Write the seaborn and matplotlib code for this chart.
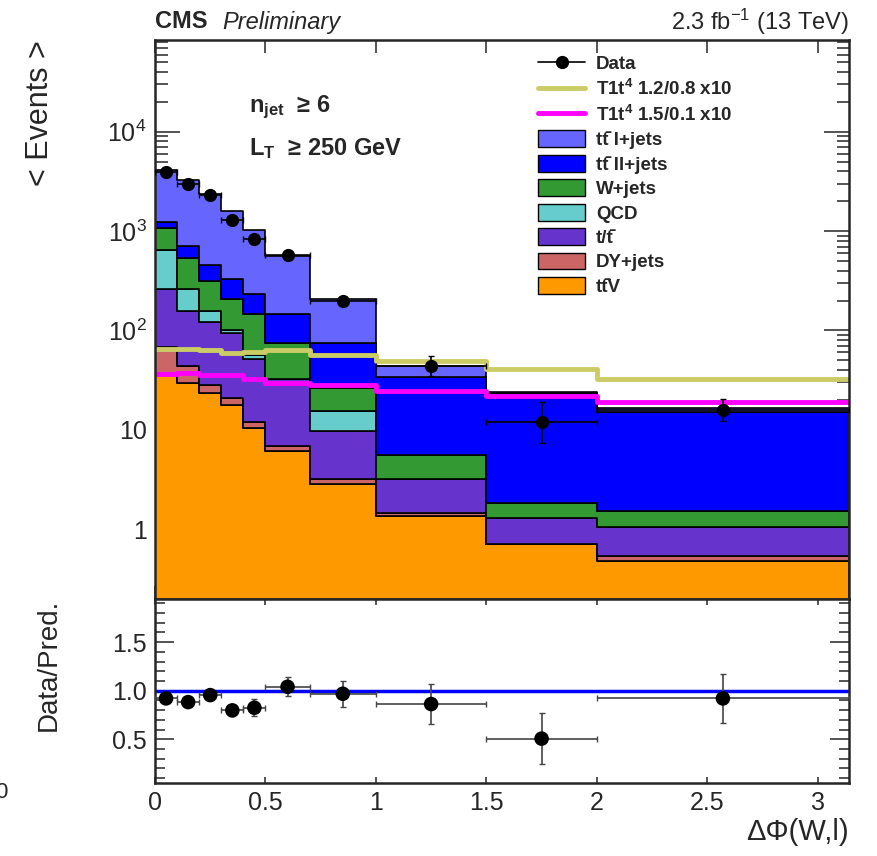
import numpy as np
import pandas as pd
import seaborn as sns
import matplotlib.pyplot as plt
from matplotlib.ticker import FixedLocator, FuncFormatter, LogLocator, MultipleLocator, NullFormatter
from matplotlib.lines import Line2D
from matplotlib.patches import Patch

# ── BINNING ────────────────────────────────────────────
bin_edges = [0.0, 0.1, 0.2, 0.3, 0.4, 0.5, 0.7, 1.0, 1.5, 2.0, 3.1416]

# ── BACKGROUNDS (events per bin) ───
tt_1l = [2925, 2592, 1906, 1281, 783, 413, 131, 9.5, 0.2, 1.3]
tt_2l = [149, 165, 142, 121, 90, 71, 47.4, 28.8, 21.9, 13.6]
wjets = [425, 276, 162, 105, 89, 41.8, 11.2, 2.31, 0.53, 0.49]
qcd = [389, 106, 35, 5.2, 4.0, 0.0, 5.7, 0.0, 0.0, 0.0]
single_t = [194.5, 112.2, 92.8, 74.1, 39.9, 25.3, 6.54, 1.79, 0.58, 0.51]
dyjets = [31.5, 14.5, 4.9, 3.1, 1.7, 0.75, 0.35, 0.10, 0.0, 0.05]
ttv = [36.0, 29.3, 23.3, 17.6, 10.4, 6.12, 2.83, 1.34, 0.71, 0.48]

# ── SIGNALS (x10) ──────────────────────────────────────
sig_12_08 = [65.5, 64.4, 63.6, 59.7, 60.5, 62.9, 56.1, 48.8, 40.8, 32.4]
sig_15_01 = [36.7, 37.2, 35.9, 35.9, 32.7, 29.8, 28.5, 24.4, 21.7, 19.0]

# ── DATA ───────────────────────────────────────────────
data_y = [3900, 2980, 2290, 1285, 841, 577, 197, 43.8, 12.1, 15.7]
data_err_lo = [60, 55, 48, 36, 29, 24, 14, 9.0, 4.8, 3.5]
data_err_hi = [60, 55, 48, 36, 29, 24, 14, 11.4, 7.1, 4.6]

ratio = [0.921, 0.883, 0.955, 0.798, 0.825, 1.041, 0.969, 0.863, 0.507, 0.921]
ratio_err = [0.04, 0.04, 0.05, 0.06, 0.09, 0.10, 0.135, 0.21, 0.26, 0.25]

# legend order = stack order from top to bottom
proc_names = ["tt_1l", "tt_2l", "wjets", "qcd", "single_t", "dyjets", "ttv"]
proc_values = [tt_1l, tt_2l, wjets, qcd, single_t, dyjets, ttv]
proc_labels = ["tt\u0304 l+jets", "tt\u0304 ll+jets", "W+jets", "QCD",
               "t/t\u0304", "DY+jets", "tt\u0304V"]
proc_colors = ["#6666FF", "#0000FF", "#339933", "#66CCCC", "#6633CC", "#CC6666", "#FF9900"]

# ── STYLE ──────────────────────────────────────────────
sns.set_style("ticks")
plt.rcParams["font.family"] = ["Liberation Sans", "DejaVu Sans"]
plt.rcParams["mathtext.fontset"] = "custom"
plt.rcParams["mathtext.rm"] = "Liberation Sans"
plt.rcParams["mathtext.it"] = "Liberation Sans:italic"
plt.rcParams["mathtext.bf"] = "Liberation Sans:bold"

edges = np.array(bin_edges)
centers = 0.5 * (edges[1:] + edges[:-1])
half_w = 0.5 * (edges[1:] - edges[:-1])

stack = pd.DataFrame({
    "x": np.tile(centers, len(proc_names)),
    "w": np.concatenate(proc_values),
    "process": np.repeat(proc_names, len(centers)),
})

W, H = 878, 856
fig = plt.figure(figsize=(W / 100, H / 100), dpi=100)
ax = fig.add_axes([155 / W, 1 - 598.5 / H, 694 / W, 558.5 / H])
ax2 = fig.add_axes([155 / W, 1 - 783 / H, 694 / W, 184.5 / H], sharex=ax)

# ── UPPER PANEL ────────────────────────────────────────
ax.set_yscale("log")
sns.histplot(data=stack, x="x", weights="w", hue="process", hue_order=proc_names,
             palette=dict(zip(proc_names, proc_colors)), bins=bin_edges,
             multiple="stack", element="step", alpha=1, edgecolor="black",
             linewidth=1.2, legend=False, ax=ax)

sns.histplot(x=centers, weights=sig_12_08, bins=bin_edges, element="step", fill=False,
             color="#CCCC66", linewidth=3.5, ax=ax)
sns.histplot(x=centers, weights=sig_15_01, bins=bin_edges, element="step", fill=False,
             color="#FF00FF", linewidth=3.5, ax=ax)

ax.errorbar(centers, data_y, xerr=half_w, yerr=[data_err_lo, data_err_hi], fmt="o",
            color="black", ms=8.5, elinewidth=1.2, capsize=2.5, zorder=10)

ax.set_xlim(0, 3.1416)
ax.set_ylim(0.2, 8.4e4)

def log_fmt(v, pos):
    e = int(round(np.log10(v)))
    if e == 0:
        return "1"
    if e == 1:
        return "10"
    return r"$\mathregular{10^{%d}}$" % e

ax.yaxis.set_major_locator(LogLocator(base=10, numticks=20))
ax.yaxis.set_minor_locator(LogLocator(base=10, subs=np.arange(2, 10), numticks=50))
ax.yaxis.set_major_formatter(FuncFormatter(log_fmt))
ax.yaxis.set_minor_formatter(NullFormatter())
ax.xaxis.set_major_locator(MultipleLocator(0.5))
ax.tick_params(axis="x", which="both", labelbottom=False)
ax.tick_params(axis="both", which="both", direction="in", top=True, right=True, width=1.1)
ax.tick_params(axis="y", which="major", length=18, labelsize=18, pad=6)
ax.tick_params(axis="y", which="minor", length=9)
ax.tick_params(axis="x", which="major", length=9.5)
ax.set_xlabel("")
ax.set_ylabel("< Events >", fontsize=22, loc="top")
ax.yaxis.set_label_coords(-0.144, 1.0)
for s in ax.spines.values():
    s.set_linewidth(1.8)

ax.text(0.135, 0.88, r"$\mathbf{n_{jet}}$  ≥ 6", transform=ax.transAxes,
        fontsize=17, fontweight="bold", va="center")
ax.text(0.135, 0.805, r"$\mathbf{L_T}$  ≥ 250 GeV", transform=ax.transAxes,
        fontsize=17, fontweight="bold", va="center")

handles = [Line2D([], [], color="black", marker="o", ms=8.5, lw=1.2),
           Line2D([], [], color="#CCCC66", lw=3.5),
           Line2D([], [], color="#FF00FF", lw=3.5)]
handles += [Patch(facecolor=c, edgecolor="black", lw=1) for c in proc_colors]
labels = ["Data", r"T1t$^{\mathbf{4}}$ 1.2/0.8 x10", r"T1t$^{\mathbf{4}}$ 1.5/0.1 x10"] + proc_labels
ax.legend(handles, labels, loc="upper left", bbox_to_anchor=(0.552, 0.974), frameon=False,
          borderpad=0, borderaxespad=0, handlelength=2.5, handleheight=1.0,
          handletextpad=0.6, labelspacing=0.3, prop={"weight": "bold", "size": 13.5})

fig.text(155 / W, 1 - 22 / H, "CMS", fontsize=17, fontweight="bold", va="center")
fig.text(222 / W, 1 - 22 / H, "Preliminary", fontsize=17, style="italic", va="center")
fig.text(849 / W, 1 - 22 / H, r"2.3 fb$^{\mathregular{-1}}$ (13 TeV)", fontsize=17,
         ha="right", va="center")

# ── RATIO PANEL ────────────────────────────────────────
ax2.axhline(1.0, color="#0000FF", lw=2.5, zorder=1)
ax2.errorbar(centers, ratio, xerr=half_w, yerr=ratio_err, fmt="none",
             ecolor="#444444", elinewidth=1.2, capsize=2.5, zorder=5)
sns.scatterplot(x=centers, y=ratio, color="black", s=110, edgecolor="none", zorder=10, ax=ax2)

ax2.set_ylim(0.05, 1.95)
ax2.yaxis.set_major_locator(FixedLocator([0.5, 1.0, 1.5]))
ax2.yaxis.set_minor_locator(MultipleLocator(0.1))
ax2.yaxis.set_major_formatter(FuncFormatter(lambda v, p: "%.1f" % v))
ax2.xaxis.set_major_formatter(FuncFormatter(lambda v, p: "%g" % v))
ax2.tick_params(axis="both", which="both", direction="in", top=True, right=True, width=1.1)
ax2.tick_params(axis="y", which="major", length=13.5, labelsize=18, pad=6)
ax2.tick_params(axis="y", which="minor", length=7)
ax2.tick_params(axis="x", which="major", length=4, labelsize=18, pad=6)
ax2.set_ylabel("Data/Pred.", fontsize=20, loc="top")
ax2.yaxis.set_label_coords(-0.134, 1.0)
ax2.set_xlabel("ΔΦ(W,l)", fontsize=21, loc="right")
ax2.xaxis.set_label_coords(1.0, -0.19)
for s in ax2.spines.values():
    s.set_linewidth(1.8)

fig.text(7 / W, 1 - 792 / H, "0", fontsize=16, ha="right", va="center")

fig.savefig("out.png", dpi=100)
